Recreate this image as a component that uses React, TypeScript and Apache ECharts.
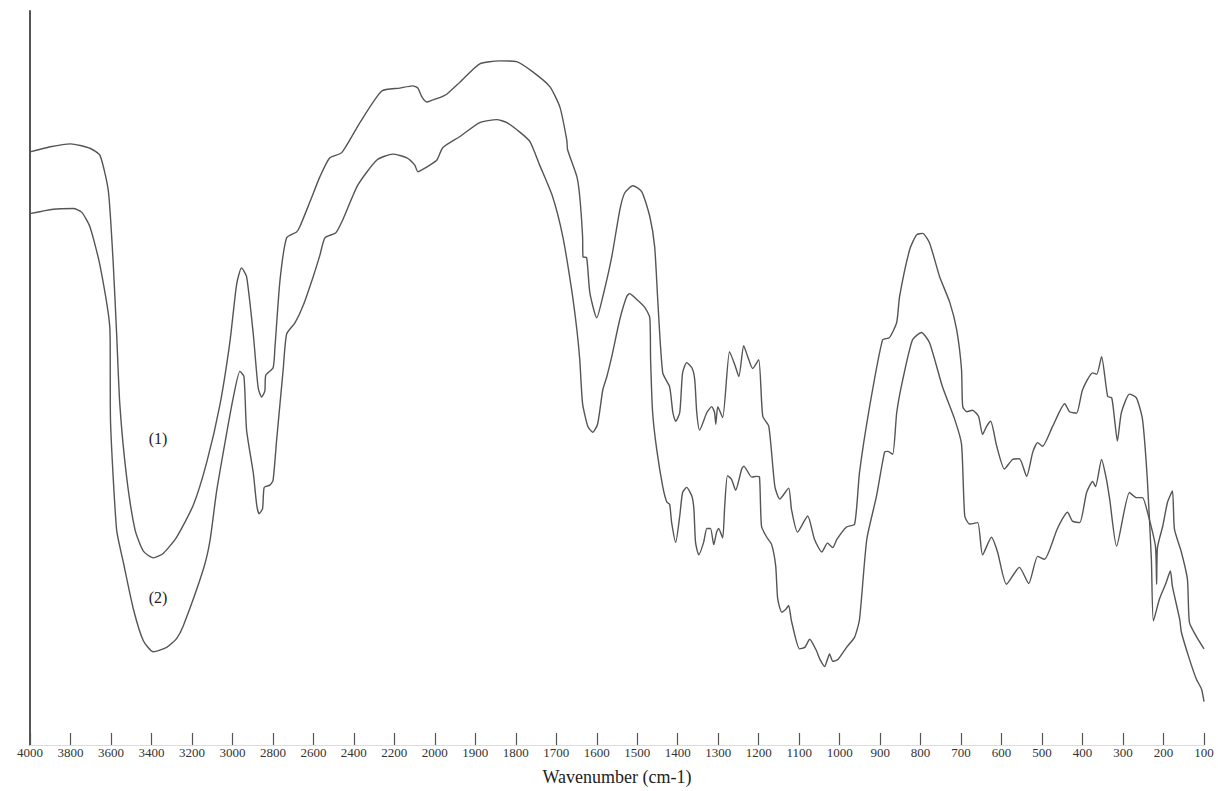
import React, { useEffect, useRef } from "react";
import * as echarts from "echarts";

// Tick labels of the (piecewise) wavenumber axis: 200 cm-1 steps above 2000, 100 cm-1 steps below
const tickLabels = [
  4000, 3800, 3600, 3400, 3200, 3000, 2800, 2600, 2400, 2200, 2000,
  1900, 1800, 1700, 1600, 1500, 1400, 1300, 1200, 1100, 1000,
  900, 800, 700, 600, 500, 400, 300, 200, 100,
];

// Spectrum (1)
const wavenumbers1 = [
  4000, 3900, 3800, 3704, 3654, 3613, 3589, 3572, 3556, 3523, 3481, 3440, 3391, 3342, 3276, 3193, 3127, 3062,
  3012, 2979, 2955, 2930, 2897, 2873, 2856, 2840, 2835, 2799, 2790, 2765, 2732, 2683, 2667, 2617, 2568, 2519,
  2460, 2370, 2262, 2173, 2109, 2084, 2064, 2040, 2010, 1988, 1970, 1938, 1889, 1840, 1798, 1758, 1716, 1691,
  1674, 1672, 1649, 1642, 1635, 1634, 1625, 1617, 1600, 1585, 1563, 1543, 1531, 1511, 1489, 1469, 1457, 1449,
  1437, 1420, 1412, 1405, 1395, 1388, 1378, 1365, 1358, 1353, 1346, 1328, 1316, 1309, 1306, 1301, 1289, 1272,
  1259, 1249, 1237, 1227, 1215, 1200, 1190, 1175, 1160, 1148, 1126, 1119, 1104, 1079, 1062, 1044, 1030, 1017,
  1007, 983, 963, 951, 926, 894, 877, 859, 852, 827, 810, 795, 778, 753, 728, 711, 699, 696, 686, 672, 657, 647,
  637, 627, 612, 593, 573, 556, 538, 523, 511, 499, 474, 444, 432, 415, 400, 375, 365, 353, 338, 328, 321, 314,
  304, 284, 267, 252, 240, 230, 225, 210, 195, 183, 178, 160, 156, 136, 119, 106, 100,
];
const transmittance1 = [
  80.8, 81.5, 81.9, 81.3, 80.3, 75.5, 65.7, 56.0, 46.3, 36.6, 29.3, 26.4, 25.5, 26.1, 28.3, 32.7, 38.5, 46.3,
  55.0, 62.8, 65.0, 63.8, 56.0, 48.7, 47.4, 48.2, 50.4, 51.4, 54.1, 63.3, 69.1, 69.9, 70.6, 74.0, 77.4, 80.0,
  80.7, 84.8, 89.1, 89.5, 89.8, 89.5, 88.3, 87.6, 87.9, 88.2, 88.7, 90.3, 92.8, 93.2, 93.1, 91.7, 89.7, 86.9,
  82.4, 81.1, 77.4, 74.7, 69.3, 66.5, 66.4, 61.6, 58.2, 61.1, 66.5, 72.9, 75.2, 76.2, 75.4, 72.0, 67.9, 60.3,
  50.7, 48.8, 45.3, 44.1, 45.3, 50.7, 52.1, 51.4, 49.8, 45.3, 42.9, 45.3, 46.1, 45.3, 43.7, 46.1, 44.6, 53.6,
  51.8, 50.2, 54.4, 52.9, 51.3, 52.5, 44.8, 43.4, 35.2, 33.5, 35.0, 32.1, 29.0, 31.2, 28.0, 26.3, 27.5, 26.9,
  28.0, 29.7, 30.1, 37.1, 46.1, 55.2, 55.5, 57.6, 61.1, 67.5, 69.5, 69.7, 68.4, 63.8, 60.3, 56.6, 51.2, 46.1, 45.4, 45.6, 44.8, 42.3,
  43.4, 44.1, 40.7, 37.6, 38.9, 39.0, 36.6, 39.9, 41.2, 40.7, 43.4, 46.5, 45.4, 45.2, 48.4, 50.7, 50.5, 52.9, 47.5, 47.3, 44.4, 41.4,
  45.3, 47.8, 47.3, 44.4, 36.2, 25.3, 16.9, 19.9, 21.9, 23.7, 21.6, 17.1, 15.4, 11.7, 9.0, 7.6, 5.9,
];

// Spectrum (2)
const wavenumbers2 = [
  4000, 3885, 3786, 3745, 3704, 3654, 3605, 3602, 3572, 3539, 3490, 3440, 3391, 3325, 3276, 3243, 3144, 3111,
  3078, 3029, 2996, 2963, 2943, 2930, 2897, 2880, 2868, 2851, 2843, 2815, 2799, 2782, 2749, 2732, 2691, 2650,
  2601, 2568, 2543, 2489, 2454, 2380, 2286, 2208, 2138, 2099, 2084, 2049, 2025, 1995, 1980, 1938, 1889, 1847,
  1822, 1790, 1765, 1741, 1709, 1684, 1662, 1649, 1642, 1635, 1622, 1610, 1598, 1585, 1575, 1563, 1543, 1526,
  1519, 1501, 1481, 1469, 1467, 1462, 1452, 1437, 1427, 1420, 1415, 1405, 1395, 1388, 1378, 1365, 1360, 1356,
  1348, 1336, 1328, 1319, 1311, 1304, 1299, 1289, 1284, 1277, 1267, 1257, 1242, 1237, 1217, 1205, 1198, 1193,
  1180, 1168, 1158, 1153, 1143, 1133, 1126, 1119, 1099, 1086, 1074, 1057, 1049, 1037, 1030, 1025, 1017, 1005,
  983, 963, 951, 933, 909, 889, 881, 869, 859, 844, 820, 798, 778, 746, 716, 699, 691, 679, 659, 647, 625, 610,
  588, 556, 533, 511, 494, 462, 437, 425, 407, 390, 375, 368, 353, 341, 333, 316, 284, 267, 252, 240, 220, 217,
  215, 202, 190, 178, 173, 156, 141, 136, 119, 100,
];
const transmittance2 = [
  72.4, 73.0, 73.1, 72.6, 70.6, 65.3, 56.5, 43.9, 29.3, 24.9, 18.6, 14.2, 12.7, 13.3, 14.5, 16.2, 23.9, 27.8,
  34.6, 42.4, 47.3, 50.9, 50.2, 42.9, 37.1, 32.7, 31.5, 32.2, 35.1, 35.4, 36.1, 41.4, 51.2, 56.0, 57.5, 59.9,
  63.8, 66.7, 69.1, 69.8, 71.6, 76.3, 79.7, 80.5, 80.0, 79.0, 78.1, 78.6, 79.0, 79.7, 81.4, 82.9, 84.8, 85.2,
  84.8, 83.5, 82.2, 79.0, 74.7, 69.3, 62.0, 56.5, 52.5, 46.5, 43.4, 42.6, 43.7, 48.4, 50.2, 52.9, 58.0, 61.1,
  61.5, 60.7, 59.6, 58.2, 52.5, 45.3, 40.3, 35.2, 33.1, 32.8, 30.3, 27.6, 31.2, 34.4, 35.1, 33.9, 32.1, 27.6,
  25.9, 27.6, 29.5, 29.5, 27.3, 29.0, 29.5, 28.2, 32.5, 36.7, 36.2, 34.7, 37.6, 38.0, 36.5, 36.6, 36.5, 29.8,
  28.3, 27.3, 24.4, 19.9, 18.1, 18.5, 19.0, 16.9, 13.1, 13.3, 14.4, 12.8, 11.7, 10.7, 11.7, 12.4, 11.4, 11.6,
  13.3, 14.7, 17.1, 28.0, 33.9, 39.9, 40.0, 39.6, 45.3, 49.8, 55.2, 56.2, 54.8, 48.8, 44.4, 41.0, 31.2, 30.1, 30.3, 25.9, 28.3, 26.3,
  21.9, 24.2, 22.0, 25.7, 25.3, 29.5, 31.7, 30.5, 30.3, 34.4, 35.9, 35.2, 38.9, 36.2, 33.5, 27.1, 34.4, 33.7, 33.7, 31.8, 27.1, 21.9,
  26.9, 29.8, 33.1, 34.6, 29.4, 26.3, 22.6, 16.7, 14.8, 13.1,
];

const seriesNames = ["(1)", "(2)"];

// Piecewise axis: index 0..10 -> 4000..2000 (200/step), 10..29 -> 2000..100 (100/step)
const toAxis = (wn: number) => (wn >= 2000 ? (4000 - wn) / 200 : 10 + (2000 - wn) / 100);

const serif = "'Liberation Serif', 'Times New Roman', Times, serif";

export default function App() {
  const ref = useRef<HTMLDivElement>(null);

  useEffect(() => {
    document.body.style.margin = "0";
    const chart = echarts.init(ref.current as HTMLDivElement, null, { renderer: "svg" });
    const lineStyle = { color: "#555", width: 1.4 };
    chart.setOption({
      animation: false,
      backgroundColor: "#fff",
      grid: { left: 30, right: 14, top: 11, bottom: 45 },
      xAxis: {
        type: "value",
        min: 0,
        max: tickLabels.length - 1,
        interval: 1,
        name: "Wavenumber (cm-1)",
        nameLocation: "middle",
        nameGap: 23,
        nameTextStyle: { fontFamily: serif, fontSize: 18, color: "#222" },
        axisLine: { show: true, onZero: false, lineStyle: { color: "#dcdcdc", width: 1 } },
        axisTick: { show: true, inside: true, length: 12, lineStyle: { color: "#555", width: 1.2 } },
        axisLabel: {
          margin: 1,
          fontFamily: serif,
          fontSize: 13,
          color: "#333",
          formatter: (v: number) => String(tickLabels[Math.round(v)] ?? ""),
        },
        splitLine: { show: false },
      },
      yAxis: {
        type: "value",
        min: 0,
        max: 100,
        axisLine: { show: true, lineStyle: { color: "#555", width: 2 } },
        axisTick: { show: false },
        axisLabel: { show: false },
        splitLine: { show: false },
      },
      series: [
        {
          name: seriesNames[0],
          type: "line",
          showSymbol: false,
          symbol: "none",
          smooth: 0.2,
          lineStyle,
          data: wavenumbers1.map((w, k) => [toAxis(w), transmittance1[k]]),
        },
        {
          name: seriesNames[1],
          type: "line",
          showSymbol: false,
          symbol: "none",
          smooth: 0.2,
          lineStyle,
          data: wavenumbers2.map((w, k) => [toAxis(w), transmittance2[k]]),
        },
      ],
      graphic: [
        {
          type: "text",
          x: 158,
          y: 438,
          style: { text: seriesNames[0], fontFamily: serif, fontSize: 16, fill: "#222", align: "center", verticalAlign: "middle" },
        },
        {
          type: "text",
          x: 158,
          y: 597,
          style: { text: seriesNames[1], fontFamily: serif, fontSize: 16, fill: "#222", align: "center", verticalAlign: "middle" },
        },
      ],
    });
    return () => chart.dispose();
  }, []);

  return <div ref={ref} style={{ position: "absolute", left: 0, top: 0, width: 1218, height: 791 }} />;
}
